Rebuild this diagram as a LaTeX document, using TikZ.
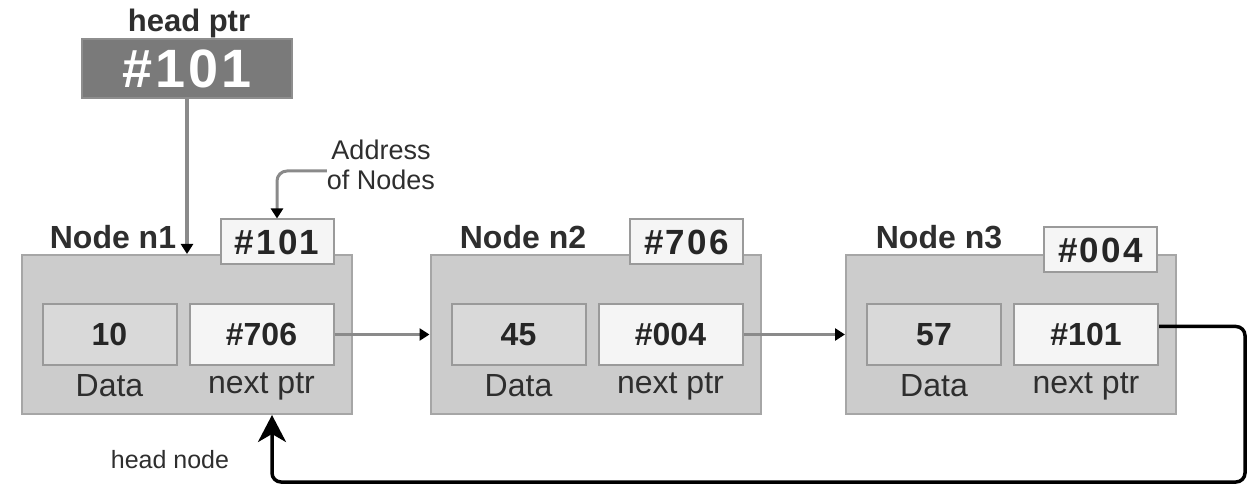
\documentclass[tikz,border=0pt]{standalone}
\usepackage{fontspec}
\setmainfont{Liberation Sans}
\newfontfamily\numfont[LetterSpace=6]{Liberation Sans}
\usetikzlibrary{arrows.meta}

\definecolor{boxfill}{HTML}{CCCCCC}
\definecolor{boxline}{HTML}{A6A6A6}
\definecolor{cellfill}{HTML}{D9D9D9}
\definecolor{ptrfill}{HTML}{F5F5F5}
\definecolor{cellline}{HTML}{9A9A9A}
\definecolor{headfill}{HTML}{7A7A7A}
\definecolor{headline}{HTML}{8E8E8E}
\definecolor{linkgray}{HTML}{8A8A8A}
\definecolor{txt}{HTML}{2E2E2E}

\tikzset{
  listnode/.style={draw=boxline, line width=2pt, fill=boxfill, minimum width=330pt, minimum height=159pt, inner sep=0pt},
  datacell/.style={draw=cellline, line width=2pt, fill=cellfill, minimum width=134pt, minimum height=61pt, inner sep=0pt,
    font=\fontsize{32}{36}\selectfont\bfseries, text=black!85},
  ptrcell/.style={datacell, fill=ptrfill, minimum width=144pt},
  addrbox/.style={draw=cellline, line width=2pt, fill=ptrfill, minimum width=113pt, minimum height=45pt, inner sep=0pt,
    font=\numfont\fontsize{35}{38}\selectfont\bfseries, text=black!85},
  nodelabel/.style={font=\fontsize{32}{36}\selectfont\bfseries, text=txt, inner sep=0pt},
  fieldlabel/.style={font=\fontsize{32}{36}\selectfont, text=txt, inner sep=0pt},
  notelabel/.style={font=\fontsize{27}{30}\selectfont, text=txt, inner sep=0pt, align=center},
  link/.style={draw=linkgray, line width=3pt, -{Triangle[length=10pt,width=12pt,color=black]}},
  backlink/.style={draw=black, line width=3.5pt, rounded corners=9pt, -{Stealth[length=27pt,width=28pt,inset=8pt]}},
}

\begin{document}
\begin{tikzpicture}[x=1pt, y=-1pt]
  \useasboundingbox (0,0) rectangle (1253,486);

  % head pointer
  \node[fill=headfill, draw=headline, line width=2pt, minimum width=210pt, minimum height=59pt, inner sep=0pt,
        text=white, font=\numfont\fontsize{54}{58}\selectfont\bfseries] (head) at (187,69) {\#101};
  \node[anchor=base, inner sep=0pt, text=txt, font=\fontsize{31}{34}\selectfont\bfseries] (headlbl) at (189,32) {head ptr};

  % list nodes
  \foreach \i/\cx/\d/\p/\ax/\ay/\a/\lx in {1/186.5/10/\#706/277/242/\#101/113,
                                           2/595.5/45/\#004/686.5/242/\#706/523,
                                           3/1011/57/\#101/1100.5/250/\#004/939} {
    \node[listnode] (n\i) at (\cx,334.5) {};
    \node[datacell] (d\i) at (\cx-77,334.5) {\d};
    \node[ptrcell]  (p\i) at (\cx+75,334.5) {\p};
    \node[fieldlabel] (dl\i) at (\cx-77,386) {Data};
    \node[fieldlabel] (pl\i) at (\cx+75,386) {next ptr};
    \node[addrbox] (a\i) at (\ax,\ay) {\a};
    \node[nodelabel] (nl\i) at (\lx,237) {Node n\i};
  }

  % annotations
  \node[notelabel] (note) at (381,165) {Address\\of Nodes};
  \node[font=\fontsize{25}{28}\selectfont, text=txt, inner sep=0pt] (headnode) at (170,460) {head node};

  % connectors
  \draw[link, line width=4pt] (head.south) -- (head.south |- n1.north);
  \draw[link, rounded corners=10pt] ([yshift=-6pt]note.west) -| (a1.north);
  \draw[link] (p1.east) -- (n2.west);
  \draw[link] (p2.east) -- (n3.west);

  \coordinate (retR) at (1245,482);
  \coordinate (retL) at (272,482);
  \draw[backlink] ([yshift=8pt]p3.east) -| (retR) -- (retL) -- (retL |- n1.south);
\end{tikzpicture}
\end{document}
